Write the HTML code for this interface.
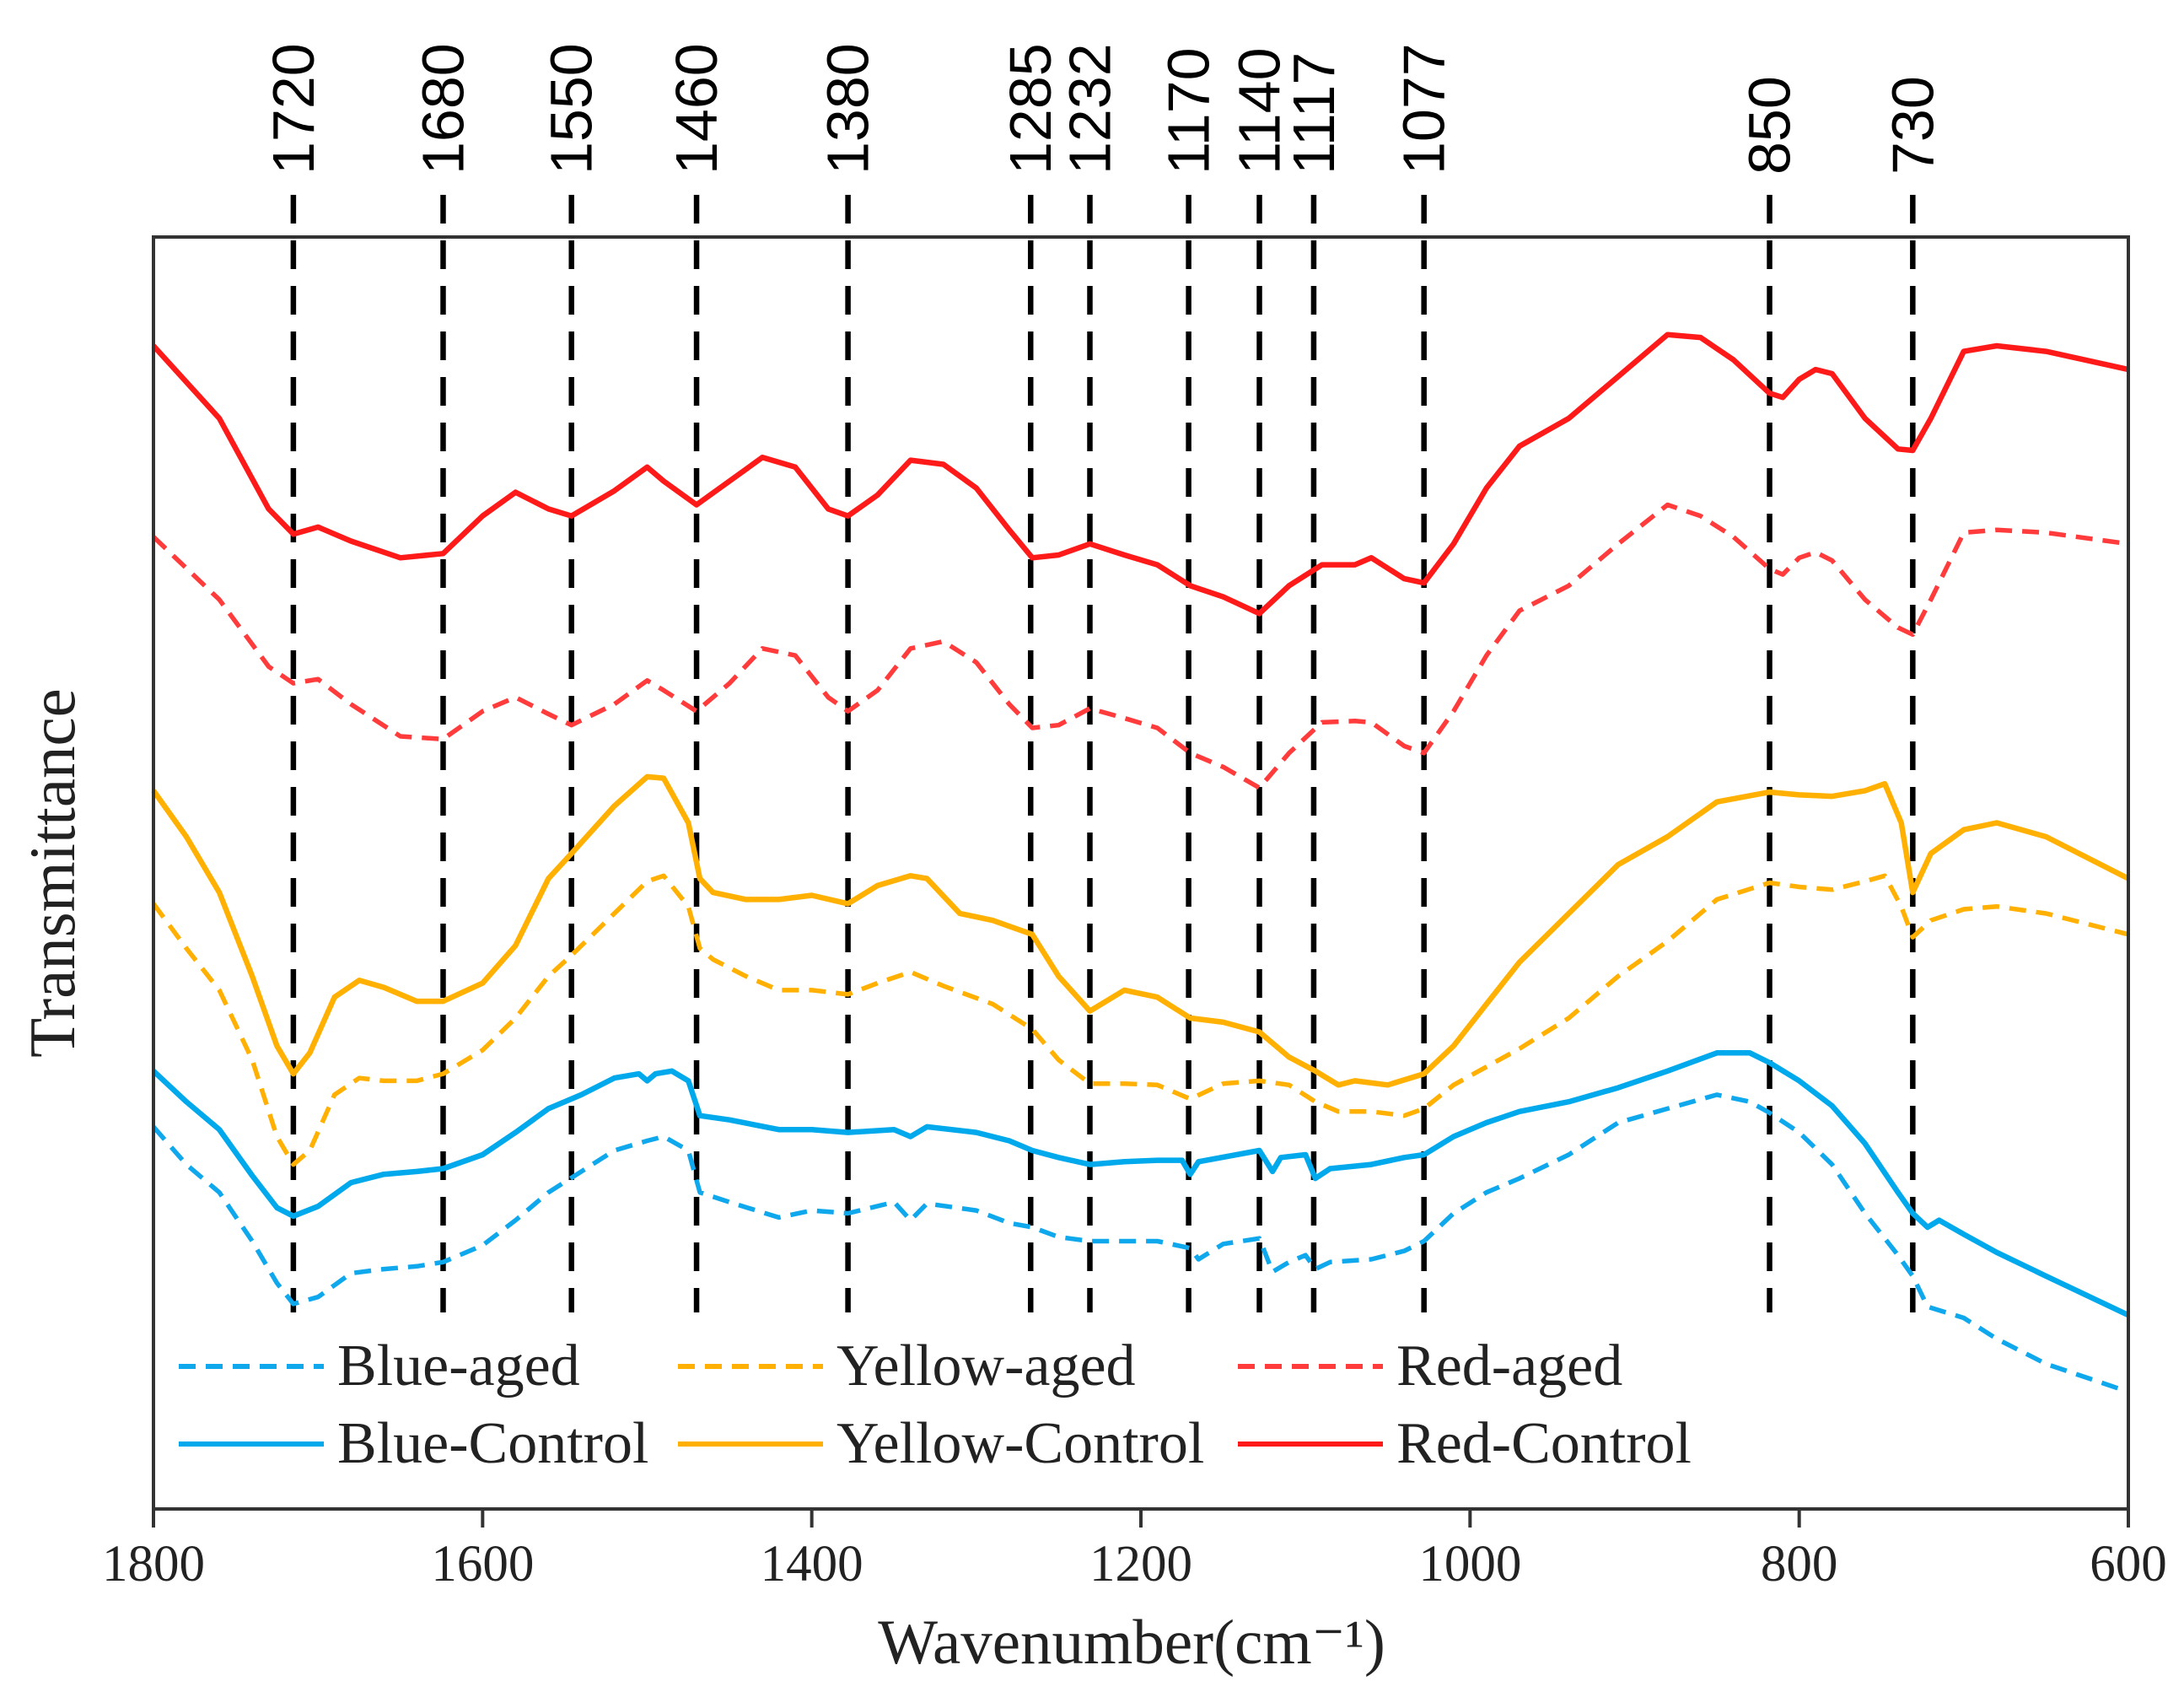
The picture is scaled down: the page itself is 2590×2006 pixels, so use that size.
<!DOCTYPE html>
<html><head><meta charset="utf-8"><style>
html,body{margin:0;padding:0;background:#fff;}
svg{display:block;}
</style></head><body>
<svg id="chart" width="2590" height="2006" viewBox="0 0 2590 2006" xmlns="http://www.w3.org/2000/svg">
<rect x="0" y="0" width="2590" height="2006" fill="#fff"/>
<g id="marks"></g>
<g id="axes"></g>
</svg>
<script>
// ---- data (wavenumber cm-1, relative transmittance offset units: larger = lower on chart) ----
const xTicks = [1800,1600,1400,1200,1000,800,600];
const peakPositions = [1715,1624,1546,1470,1378,1267,1231,1171,1128,1095,1028,818,731];
const peakLabels = ["1720","1680","1550","1460","1380","1285","1232","1170","1140","1117","1077","850","730"];

const rcW=[1800,1760,1730,1715,1700,1680,1650,1624,1600,1580,1560,1546,1520,1500,1490,1470,1450,1430,1410,1390,1378,1360,1340,1320,1300,1280,1266,1250,1231,1210,1190,1170,1150,1128,1110,1090,1070,1060,1040,1028,1010,990,970,940,910,880,860,840,818,810,800,790,780,760,740,731,720,700,680,650,600];
const redControl=[248,300,365,383,378,388,400,397,370,353,365,370,352,335,345,362,345,328,335,365,370,355,330,333,350,380,400,398,390,398,405,420,428,440,420,405,405,400,415,418,390,350,320,300,270,240,242,258,282,285,272,265,268,300,322,323,300,252,248,252,265];
const redAged=[385,430,478,490,487,505,528,530,510,500,512,520,505,488,495,510,490,465,470,500,510,495,465,460,475,505,522,520,508,515,522,540,550,565,540,518,517,518,535,540,510,470,438,420,390,362,370,385,408,412,400,396,402,430,450,455,430,382,380,382,390];

const ycW=[1800,1780,1760,1740,1725,1715,1705,1690,1675,1660,1640,1624,1600,1580,1560,1546,1520,1500,1490,1475,1468,1460,1440,1420,1400,1378,1360,1340,1330,1310,1290,1266,1250,1231,1210,1190,1170,1150,1128,1110,1094,1080,1070,1050,1028,1010,990,970,940,910,880,850,818,800,780,760,748,738,731,720,700,680,650,600];
const yellowControl=[567,600,640,700,750,770,755,715,703,708,718,718,705,678,630,612,578,557,558,590,630,640,645,645,642,648,635,628,630,655,660,670,700,725,710,715,730,733,740,758,768,778,775,778,770,750,720,690,655,620,600,575,568,570,571,567,562,590,640,612,595,590,600,630];
const yaW=[1800,1780,1760,1740,1725,1715,1705,1690,1675,1660,1640,1624,1600,1580,1560,1546,1520,1500,1490,1475,1468,1460,1440,1420,1400,1378,1360,1340,1320,1290,1266,1250,1231,1210,1190,1170,1150,1128,1110,1094,1080,1060,1040,1028,1010,990,970,940,910,880,850,818,800,780,760,748,738,731,720,700,680,650,600];
const yellowAged=[648,680,710,760,815,835,825,785,773,775,775,770,753,730,700,685,655,632,628,650,680,688,700,710,710,713,705,697,707,720,738,760,777,777,778,788,777,775,778,790,797,797,800,795,778,765,752,730,700,675,645,633,636,638,632,628,650,672,660,652,650,655,670];

const bcW=[1800,1780,1760,1740,1725,1715,1700,1680,1660,1640,1624,1600,1580,1560,1540,1520,1505,1500,1495,1485,1475,1468,1450,1420,1400,1378,1350,1340,1330,1300,1280,1266,1250,1231,1210,1190,1175,1170,1165,1128,1120,1115,1100,1094,1085,1060,1040,1028,1010,990,970,940,910,880,850,830,818,800,780,760,740,731,722,715,700,680,650,600];
const blueControl=[768,790,810,843,866,872,865,848,842,840,838,828,812,795,785,773,770,775,770,768,775,800,803,810,810,812,810,815,808,812,818,825,830,835,833,832,832,842,833,825,840,830,828,845,838,835,830,828,815,805,797,790,780,768,755,755,762,775,793,820,855,870,880,875,885,898,915,943];
const baW=[1800,1780,1760,1740,1725,1715,1700,1680,1660,1640,1624,1600,1580,1560,1540,1520,1500,1490,1475,1468,1450,1420,1400,1378,1350,1340,1330,1300,1280,1266,1250,1231,1210,1190,1170,1165,1150,1128,1120,1110,1100,1094,1085,1060,1040,1028,1010,990,970,940,910,880,850,830,818,800,780,760,740,731,722,700,680,650,600];
const blueAged=[808,835,855,890,920,935,930,913,910,908,905,893,875,855,840,825,818,815,825,855,862,873,868,870,862,875,863,868,877,880,887,890,890,890,895,903,892,888,912,905,900,910,905,903,897,890,870,855,845,828,805,795,785,790,798,812,835,870,900,915,937,945,960,978,998];

// ---- scales ----
const PL=182, PR=2524, PT=281, PB=1789;
function xScale(w){ return PL + (1800 - w) * (PR - PL) / 1200; }
function yScale(v){ return PT + (v - 170) * (PB - PT) / 912; }

const NS="http://www.w3.org/2000/svg";
const marks=document.getElementById('marks');
const axes=document.getElementById('axes');
function mk(tag, attrs, parent){
  const e=document.createElementNS(NS,tag);
  for(const k in attrs) e.setAttribute(k, attrs[k]);
  parent.appendChild(e); return e;
}

// peak reference lines + labels
for(let i=0;i<peakPositions.length;i++){
  const x=xScale(peakPositions[i]);
  const l=mk('line',{x1:x,x2:x,y1:231,y2:1556,stroke:'#000','stroke-width':6.5,'stroke-dasharray':'34 20'},marks);
  
  
  const t=mk('text',{x:x,y:207,transform:'rotate(-90 '+x+' 207)','text-anchor':'start','dominant-baseline':'central','font-family':'Liberation Sans, sans-serif','font-size':70,fill:'#000'},axes);
  t.textContent=peakLabels[i];
  
  
}

// series
const series=[
  {name:'red-control', w:rcW, v:redControl, c:'#ff1a1a', dash:null},
  {name:'red-aged', w:rcW, v:redAged, c:'#ff3b3b', dash:'20 12'},
  {name:'yellow-control', w:ycW, v:yellowControl, c:'#ffb000', dash:null},
  {name:'yellow-aged', w:yaW, v:yellowAged, c:'#ffb000', dash:'20 12'},
  {name:'blue-control', w:bcW, v:blueControl, c:'#00a8ec', dash:null},
  {name:'blue-aged', w:baW, v:blueAged, c:'#10a8ec', dash:'20 12'}
];
for(const s of series){
  let d='';
  for(let i=0;i<s.w.length;i++) d+=(i?'L':'M')+xScale(s.w[i]).toFixed(1)+' '+yScale(s.v[i]).toFixed(1);
  const attrs={d:d,fill:'none',stroke:s.c,'stroke-width':s.dash?5.5:6.5,'stroke-linejoin':'round'};
  if(s.dash) attrs['stroke-dasharray']=s.dash;
  const p=mk('path',attrs,marks);
  
  
}

// frame
const fr=mk('rect',{x:PL,y:PT,width:PR-PL,height:PB-PT,fill:'none',stroke:'#333','stroke-width':4},axes);



// x ticks
for(const t of xTicks){
  const x=xScale(t);
  const tk=mk('line',{x1:x,x2:x,y1:PB,y2:PB+22,stroke:'#333','stroke-width':4},axes);
  
  
  const tx=mk('text',{x:x,y:1874,'text-anchor':'middle','font-family':'Liberation Serif, serif','font-size':61,fill:'#222'},axes);
  tx.textContent=t;
  
  
}

// legend
const legend=mk('g',{},axes);


const legendItems=[
  ['Blue-aged','#10a8ec',true,212,1620],['Yellow-aged','#ffb000',true,804,1620],['Red-aged','#ff3b3b',true,1468,1620],
  ['Blue-Control','#00a8ec',false,212,1712],['Yellow-Control','#ffb000',false,804,1712],['Red-Control','#ff1a1a',false,1468,1712]
];
for(const it of legendItems){
  const g=mk('g',{},legend);
  
  
  const a={x1:it[3],x2:it[3]+172,y1:it[4],y2:it[4],stroke:it[1],'stroke-width':6};
  if(it[2]) a['stroke-dasharray']='20 12';
  mk('line',a,g);
  const t=mk('text',{x:it[3]+188,y:it[4]+22,'font-family':'Liberation Serif, serif','font-size':70,fill:'#222'},g);
  t.textContent=it[0];
}

// axis titles
const xt=mk('text',{x:1342,y:1972,'text-anchor':'middle','font-family':'Liberation Serif, serif','font-size':75,fill:'#222'},axes);
xt.textContent='Wavenumber(cm\u207B\u00B9)';


const yt=mk('text',{x:62,y:1035,transform:'rotate(-90 62 1035)','text-anchor':'middle','dominant-baseline':'central','font-family':'Liberation Serif, serif','font-size':77,fill:'#222'},axes);
yt.textContent='Transmittance';


</script>
</body></html>
